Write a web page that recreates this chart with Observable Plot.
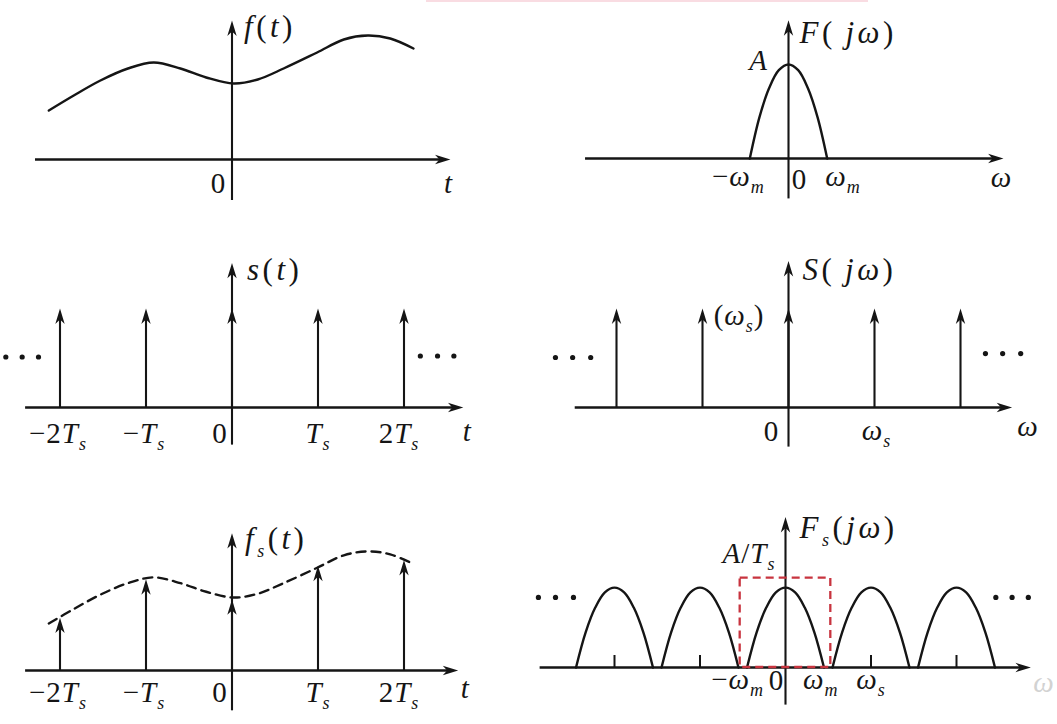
<!DOCTYPE html>
<html>
<head>
<meta charset="utf-8">
<script src="https://cdn.jsdelivr.net/npm/d3@7"></script>
<script src="https://cdn.jsdelivr.net/npm/@observablehq/plot@0.6"></script>
<style>
  html, body { margin: 0; padding: 0; background: #fff; }
  #root { position: relative; width: 1057px; height: 724px; overflow: hidden; background: #fff; }
  .panel { position: absolute; }
  .panel svg { overflow: visible; }
  #pink { position: absolute; left: 426px; top: 0; width: 442px; height: 2px; background: #f9dce2; }
</style>
</head>
<body>
<div id="root"><div id="pink"></div></div>
<script>
// ================= DATA =================
// time domain: sample indices and tick labels (t in units of Ts)
const Ts = 1;
const nIdx = [-2, -1, 0, 1, 2];
const tTickText = ["−2*T*_s", "−*T*_s", "0", "*T*_s", "2*T*_s"];
// continuous signal f(t)
const fT = [-2.13, -1.84, -1.53, -1.21, -0.91, -0.60, -0.30, 0.02, 0.30, 0.60, 0.99, 1.30, 1.58, 1.84, 2.11];
const fV = [0.49, 0.64, 0.79, 0.91, 0.97, 0.91, 0.82, 0.76, 0.80, 0.91, 1.07, 1.20, 1.24, 1.21, 1.11];
// impulse train s(t) strengths, and sampled values f(nTs)
const sV = [1, 1, 1, 1, 1];
const fsV = [0.55, 0.95, 0.74, 1.09, 1.15];
// frequency domain (ω in units of ωs)
const ws = 1;
const wm = 0.45;
const A = 1;
const AoverTs = 0.85;
const SV = [1, 1, 1, 1, 1];
// band-limited spectrum shape: offsets (fraction of ωm) and relative heights
const humpU = [-1, -0.75, -0.5, -0.25, 0, 0.25, 0.5, 0.75, 1];
const humpV = [0, 0.44, 0.75, 0.94, 1, 0.94, 0.75, 0.44, 0];
// ideal low-pass window (red dashed box)
const passX = [-0.53, 0.53];
const passTop = 0.95;
// ellipsis dots
const sDotsX = [-2.63, -2.44, -2.25, 2.19, 2.39, 2.58];
const sDotsY = [0.51, 0.51, 0.51, 0.52, 0.52, 0.52];
const SDotsX = [-2.71, -2.51, -2.30, 2.29, 2.49, 2.70];
const SDotsY = [0.505, 0.505, 0.505, 0.545, 0.545, 0.545];
const FsDotsX = [-2.89, -2.69, -2.48, 2.46, 2.65, 2.84];
const FsDotsY = [0.745, 0.745, 0.745, 0.745, 0.745, 0.745];

// ================= STYLE / LAYOUT =================
const INK = "#151515";
const RED = "#c8343f";
const FONT = "'Liberation Serif', 'Times New Roman', serif";
const FS = 29, SUB = 18, SHIFT = 7.5;
const TITLE_FS = 31;

const stealth = {
  draw(ctx, size) {
    const r = Math.sqrt(size / Math.PI);
    const L = r * 2.8, w = r * 0.85, b = r * 0.8;
    ctx.moveTo(0, 0);
    ctx.lineTo(w, L);
    ctx.lineTo(0, L - b);
    ctx.lineTo(-w, L);
    ctx.closePath();
  }
};
const AR = 5.5; // arrowhead "radius"

const panels = {
  f:  {left: 0,   top: 0,   w: 528, h: 241, x0: 231.5, kx: 86,   y0: 159, ky: 100, xAxis: [-2.285, 2.54], yAxis: [-0.41, 1.39]},
  F:  {left: 528, top: 0,   w: 529, h: 241, x0: 260,   kx: 86,   y0: 158, ky: 94,  xAxis: [-2.36, 2.50],  yAxis: [-0.43, 1.47]},
  s:  {left: 0,   top: 241, w: 528, h: 241, x0: 231.5, kx: 86,   y0: 166, ky: 99,  xAxis: [-2.40, 2.69],  yAxis: [-0.38, 1.46]},
  S:  {left: 528, top: 241, w: 529, h: 241, x0: 260,   kx: 86,   y0: 166, ky: 99,  xAxis: [-2.48, 2.60],  yAxis: [-0.40, 1.48]},
  fs: {left: 0,   top: 482, w: 528, h: 242, x0: 231.5, kx: 86,   y0: 188, ky: 96,  xAxis: [-2.40, 2.63],  yAxis: [-0.42, 1.43]},
  Fs: {left: 528, top: 482, w: 529, h: 242, x0: 257,   kx: 85.5, y0: 185, ky: 94,  xAxis: [-2.87, 2.87],  yAxis: [-0.40, 1.60]}
};

// ================= HELPERS =================
function axes(p) {
  const hx = 8 / p.kx, hy = 8 / p.ky;
  return [
    Plot.ruleY([0], {x1: p.xAxis[0], x2: p.xAxis[1] - hx, stroke: INK, strokeWidth: 2.3}),
    Plot.ruleX([0], {y1: p.yAxis[0], y2: p.yAxis[1] - hy, stroke: INK, strokeWidth: 2.1}),
    Plot.dot([{x: p.xAxis[1], y: 0}], {x: "x", y: "y", symbol: stealth, r: AR, fill: INK, rotate: 90}),
    Plot.dot([{x: 0, y: p.yAxis[1]}], {x: "x", y: "y", symbol: stealth, r: AR, fill: INK})
  ];
}
function impulses(p, xs, vs) {
  const data = xs.map((x, i) => ({x, v: vs[i]}));
  const hy = 8 / p.ky;
  return [
    Plot.ruleX(data, {x: "x", y1: 0, y2: d => d.v - hy, stroke: INK, strokeWidth: 2.1}),
    Plot.dot(data, {x: "x", y: "y" in data[0] ? "y" : "v", symbol: stealth, r: AR, fill: INK})
  ];
}
function lab(x, y, text, dx, dy, anchor = "middle", fill = INK, size = FS) {
  return Plot.text([{x, y}], {x: "x", y: "y", text: () => text, dx, dy, textAnchor: anchor,
    lineAnchor: "middle", fontSize: size, fontFamily: FONT, fill});
}
function title(x, y, text, dx, dy) {
  return lab(x, y, "^" + text, dx, dy, "start", INK, TITLE_FS);
}
function dots(xs, ys) {
  return Plot.dot(xs.map((x, i) => ({x, y: ys[i]})), {x: "x", y: "y", r: 2.6, fill: INK, stroke: "none"});
}
function typeset(svg) {
  const NS = "http://www.w3.org/2000/svg";
  svg.querySelectorAll("text").forEach(el => {
    let s = el.textContent;
    if (s.startsWith("^")) { s = s.slice(1); el.style.letterSpacing = "3.5px"; }
    else el.style.letterSpacing = "1px";
    if (!/[*_]/.test(s)) { el.textContent = s; return; }
    el.textContent = "";
    let italic = false, buf = "", down = 0;
    const flush = () => {
      if (!buf) return;
      const t = document.createElementNS(NS, "tspan");
      if (italic) t.setAttribute("font-style", "italic");
      if (down) { t.setAttribute("dy", -down); down = 0; }
      t.textContent = buf; el.appendChild(t); buf = "";
    };
    for (let i = 0; i < s.length; i++) {
      const c = s[i];
      if (c === "*") { flush(); italic = !italic; }
      else if (c === "_" && i + 1 < s.length) {
        flush();
        const t = document.createElementNS(NS, "tspan");
        t.setAttribute("font-style", "italic");
        t.setAttribute("font-size", SUB);
        t.setAttribute("dy", SHIFT);
        t.textContent = s[++i];
        el.appendChild(t);
        down = SHIFT;
      } else buf += c;
    }
    flush();
  });
}
function draw(p, marks) {
  const chart = Plot.plot({
    width: p.w, height: p.h, margin: 0,
    x: {domain: [-p.x0 / p.kx, (p.w - p.x0) / p.kx], range: [0, p.w], axis: null},
    y: {domain: [(p.y0 - p.h) / p.ky, p.y0 / p.ky], range: [p.h, 0], axis: null},
    style: {background: "transparent", overflow: "visible"},
    marks
  });
  typeset(chart);
  const div = document.createElement("div");
  div.className = "panel";
  div.style.left = p.left + "px";
  div.style.top = p.top + "px";
  div.style.width = p.w + "px";
  div.style.height = p.h + "px";
  div.appendChild(chart);
  document.getElementById("root").appendChild(div);
}
const fData = fT.map((t, i) => ({t, v: fV[i]}));
const hump = (c, h) => humpU.map((u, i) => ({w: c + u * wm, v: h * humpV[i]}));
const tickDx = [-2, -2, -12, 0, -5];

// ================= PANEL f(t) =================
{
  const p = panels.f;
  draw(p, [
    ...axes(p),
    Plot.line(fData, {x: "t", y: "v", curve: "catmull-rom", stroke: INK, strokeWidth: 2.4}),
    title(0, p.yAxis[1], "*f*(*t*)", 12, 6.5),
    lab(0, 0, "0", -13.5, 24),
    lab(p.xAxis[1], 0, "*t*", -2, 24)
  ]);
}
// ================= PANEL F(jω) =================
{
  const p = panels.F;
  draw(p, [
    ...axes(p),
    Plot.line(hump(0, A), {x: "w", y: "v", curve: "catmull-rom", stroke: INK, strokeWidth: 2.4}),
    title(0, p.yAxis[1], "*F*(\u2009*jω*)", 11, 12.5),
    lab(0, A, "*A*", -30, -4),
    lab(-wm, 0, "−*ω*_m", 15, 18, "end"),
    lab(0, 0, "0", 11, 21),
    lab(wm, 0, "*ω*_m", -2, 18, "start"),
    lab(p.xAxis[1], 0, "*ω*", -2, 19)
  ]);
}
// ================= PANEL s(t) =================
{
  const p = panels.s;
  draw(p, [
    ...axes(p),
    ...impulses(p, nIdx.map(n => n * Ts), sV),
    dots(sDotsX, sDotsY),
    title(0, p.yAxis[1], "*s*(*t*)", 15, 7),
    ...nIdx.map((n, i) => lab(n * Ts, 0, tTickText[i], tickDx[i], 26)),
    lab(p.xAxis[1], 0, "*t*", 4, 24)
  ]);
}
// ================= PANEL S(jω) =================
{
  const p = panels.S;
  draw(p, [
    ...axes(p),
    ...impulses(p, nIdx.map(n => n * ws), SV),
    dots(SDotsX, SDotsY),
    title(0, p.yAxis[1], "*S*(\u2009*jω*)", 14, 9),
    lab(0, SV[2], "(*ω*_s)", -24, 7, "end"),
    lab(0, 0, "0", -17, 24),
    lab(ws, 0, "*ω*_s", 2, 23),
    lab(p.xAxis[1], 0, "*ω*", 16, 19)
  ]);
}
// ================= PANEL fs(t) =================
{
  const p = panels.fs;
  draw(p, [
    ...axes(p),
    Plot.line(fData, {x: "t", y: "v", curve: "catmull-rom", stroke: INK, strokeWidth: 2.4, strokeDasharray: "9,6"}),
    ...impulses(p, nIdx.map(n => n * Ts), fsV),
    title(0, p.yAxis[1], "*f*_s(*t*)", 13, 6),
    ...nIdx.map((n, i) => lab(n * Ts, 0, tTickText[i], tickDx[i], 22)),
    lab(p.xAxis[1], 0, "*t*", 7, 18)
  ]);
}
// ================= PANEL Fs(jω) =================
{
  const p = panels.Fs;
  const ticks = nIdx.filter(n => n !== 0).map(n => ({x: n * ws}));
  draw(p, [
    ...axes(p),
    ...nIdx.map(n => Plot.line(hump(n * ws, AoverTs), {x: "w", y: "v", curve: "catmull-rom", stroke: INK, strokeWidth: 2.4})),
    Plot.ruleX(ticks, {x: "x", y1: 0, y2: 12 / p.ky, stroke: INK, strokeWidth: 2}),
    Plot.rect([{x1: passX[0], x2: passX[1], y1: 0, y2: passTop}], {x1: "x1", x2: "x2", y1: "y1", y2: "y2",
      fill: "none", stroke: RED, strokeWidth: 2.3, strokeDasharray: "8,5"}),
    dots(FsDotsX, FsDotsY),
    title(0, p.yAxis[1], "*F*_s(*jω*)", 14, 11),
    lab(0, AoverTs, "*A*/*T*_s", -10, -34, "end"),
    lab(-wm, 0, "−*ω*_m", 17, 12, "end"),
    lab(0, 0, "0", -9, 13),
    lab(wm, 0, "*ω*_m", -21, 12, "start"),
    lab(ws, 0, "*ω*_s", 0, 12),
    lab(p.xAxis[1], 0, "*ω*", 13, 15, "middle", "#d2d2d2")
  ]);
}
</script>
</body>
</html>
